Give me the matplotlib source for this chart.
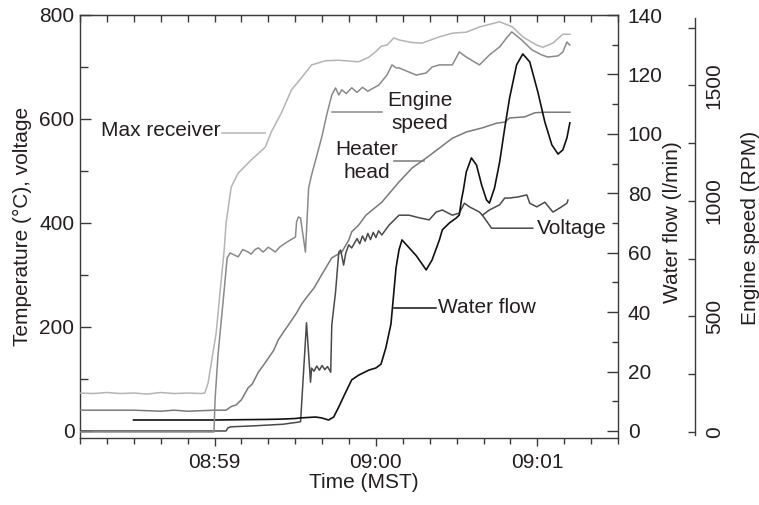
import matplotlib
matplotlib.use("Agg")
import matplotlib.pyplot as plt
from matplotlib.ticker import MultipleLocator

plt.rcParams['font.family'] = ['Liberation Sans', 'DejaVu Sans']

# ---------------- data (time in seconds relative to 08:59:00) ----------------
tick_seconds = [0, 60, 120]
tick_labels = ["08:59", "09:00", "09:01"]

receiver_t = [-51, -45, -40, -35, -30, -25, -20, -15, -10, -5, -3.6, -2.4, 0.6, 2.4, 3.6, 4.3,
              6.2, 8.8, 13.6, 18.9, 21.1, 24.9, 28.6, 32.3, 36.1, 41.3, 46.2, 53.6, 57.4, 60,
              62, 64.1, 66.7, 68.6, 73.5, 77.2, 83.6, 88.4, 93.6, 98.5, 106, 110.8, 114.6,
              119.8, 122.1, 125.8, 129.5, 132.1]
receiver_T = [73, 72, 74, 72, 73, 71, 74, 72, 73, 72, 73, 92, 188, 285, 348, 400,
              469, 496, 521, 546, 575, 612, 656, 679, 704, 712, 713, 710, 719, 730,
              740, 742, 756, 752, 747, 746, 758, 765, 767, 777, 787, 777, 758,
              742, 738, 746, 763, 763]

engine_t = [-51, -0.2, 0.2, 1.3, 3.6, 4.7, 5.8, 8.8, 10.5, 12.5, 13.6, 15.1, 16.3, 18.1, 20.0,
            22.6, 24.2, 26.4, 28.2, 30.1, 30.5, 31.2, 32.0, 32.3, 33.8, 35.0, 36.1, 39.8,
            41.7, 43.6, 45.0, 46.2, 47.3, 49, 51, 53, 55, 57, 58.5, 61.1, 64.1, 66.0, 67.5,
            68.6, 72.3, 75.0, 78.7, 80.9, 83.6, 88.4, 91.0, 93.6, 98.5, 102.2, 106.0, 108.6,
            110.5, 114.2, 118.0, 121.7, 123.9, 127.7, 129.5, 131.0, 132.1]
engine_rpm = [0, 0, 139, 333, 615, 753, 775, 758, 790, 779, 770, 790, 797, 779, 800,
              779, 800, 818, 831, 844, 909, 931, 926, 900, 779, 1056, 1113, 1273,
              1372, 1459, 1489, 1459, 1481, 1465, 1490, 1470, 1492, 1475, 1485, 1502, 1545, 1589, 1576,
              1576, 1558, 1545, 1554, 1580, 1589, 1589, 1645, 1623, 1589, 1632, 1667, 1706,
              1732, 1697, 1654, 1632, 1623, 1628, 1645, 1688, 1675]

heater_t = [-51, -40, -30, -20, -15, -10, -5, 0, 4.3, 6.2, 8.0, 10, 12.5, 14, 16.3, 18, 20.0,
            22, 23.7, 25.6, 27.5, 30.5, 32.5, 35.0, 37, 39.8, 43.6, 47.3, 49.9, 51.0, 53.6,
            56.3, 62.2, 68.6, 73.5, 78.7, 83.6, 88.4, 93.6, 99.6, 104.9, 107.9, 109.7,
            115.3, 119.1, 122.8, 132.1]
heater_T = [40, 40, 40, 38, 40, 38, 39, 40, 40, 47, 50, 60, 83, 90, 113, 125, 140,
            155, 175, 190, 204, 227, 245, 262, 275, 300, 333, 344, 367, 383, 396,
            415, 440, 479, 506, 525, 544, 563, 575, 583, 592, 594, 602,
            604, 612, 613, 613]

voltage_t = [-51, 4.3, 5.0, 6, 15.1, 25.6, 28.2, 31.2, 32.0, 34.2, 35.7, 36.1, 37, 38, 39, 40,
             41, 42, 43.2, 43.6, 45.0, 46.2, 46.9, 48.0, 48.8, 49.9, 51.0, 53, 54, 55, 56,
             57, 58, 59, 60, 61, 62.2, 64.9, 68.6, 72.3, 76.1, 79.8, 82.4, 84.7, 88.4,
             91.0, 92.9, 94.8, 98.5, 99.6, 102.2, 106.0, 107.9, 109.7, 112.7, 116.1,
             117.2, 119.8, 122.8, 125.8, 128.4, 131.0, 131.4]
voltage_V = [0, 0, 6, 8, 10, 13, 15, 17, 18, 208, 94, 121, 115, 125, 117, 126,
             118, 124, 113, 204, 267, 344, 348, 319, 342, 358, 352, 370, 360, 375, 365,
             380, 368, 382, 372, 385, 377, 396, 415, 415, 410, 406, 421, 425, 415,
             419, 438, 431, 421, 415, 425, 435, 448, 448, 450, 454,
             438, 431, 440, 421, 429, 438, 444]

flow_t = [-30.1, 0, 20, 25, 30, 32, 37.6, 39.8, 42.4, 44.3, 46.2, 48.8, 51.0, 53.6, 57.4,
          60.0, 61.9, 63.7, 65.6, 66.7, 67.5, 68.6, 69.7, 71, 75, 78.7, 80.9, 83.6, 84.7,
          87.3, 89.9, 91.0, 91.8, 92.5, 93.6, 95.5, 97.4, 99.3, 101.1, 102.2, 104.1, 106.0,
          107.9, 109.7, 112.3, 114.6, 117.2, 120.2, 122.8, 125.4, 127.7, 129.5, 131.0, 132.1]
flow_W = [3.7, 3.7, 3.9, 4.0, 4.2, 4.4, 4.7, 4.4, 3.7, 4.7, 8.1, 13.1, 17.2, 18.8, 20.5,
          21.2, 22.5, 28, 36, 47, 55, 61, 64.3, 63, 59, 54.2, 57.6, 64.3, 67.7,
          70.0, 71.7, 72.7, 77.8, 81, 87.2, 91.9, 89.5, 82.8, 77.8, 76.7, 81.8, 90.5,
          102.0, 112.1, 123.2, 126.9, 124.2, 114.1, 104.0, 96.3, 93.2, 94.6, 98.6, 103.7]

# ---------------- styling ----------------
TXT = '#231f20'
SP = '#3a3a3a'
C_REC = '#b4b4b4'
C_ENG = '#8a8a8a'
C_HEAT = '#7a7a7a'
C_VOLT = '#4a4a4a'
C_FLOW = '#111111'
FS = 15

W_PX, H_PX = 759, 505
fig = plt.figure(figsize=(W_PX / 100, H_PX / 100), dpi=100)
L, R, T, B = 80, 618, 15, 438
ax = fig.add_axes([L / W_PX, 1 - B / H_PX, (R - L) / W_PX, (B - T) / H_PX])
ax2 = ax.twinx()
ax3 = ax.twinx()

ax.plot(receiver_t, receiver_T, color=C_REC, lw=1.1, zorder=3)
ax.plot(heater_t, heater_T, color=C_HEAT, lw=1.1, zorder=3)
ax.plot(voltage_t, voltage_V, color=C_VOLT, lw=1.1, zorder=4)
ax3.plot(engine_t, engine_rpm, color=C_ENG, lw=1.1, zorder=3)
ax2.plot(flow_t, flow_W, color=C_FLOW, lw=1.2, zorder=5)

ax.set_xlim(-50, 150)
ax.set_ylim(-13.5, 800)
ax2.set_ylim(-2.36, 140)
ax3.set_ylim(-26, 1805)

# spines
for s in ax.spines.values():
    s.set_color(SP)
    s.set_linewidth(1.0)
ax.spines['right'].set_visible(False)
for k in ['left', 'top', 'bottom']:
    ax2.spines[k].set_visible(False)
    ax3.spines[k].set_visible(False)
ax2.spines['right'].set_color(SP)
ax2.spines['right'].set_linewidth(1.0)
ax3.spines['right'].set_position(('axes', (695 - L) / (R - L)))
ax3.spines['right'].set_color(SP)
ax3.spines['right'].set_linewidth(1.0)
ax3.spines['right'].set_bounds(-15, 1790)

# x ticks
ax.set_xticks(tick_seconds)
ax.set_xticklabels(tick_labels)
ax.xaxis.set_minor_locator(MultipleLocator(10))
ax.tick_params(axis='x', which='major', direction='out', length=6, width=1, color=SP,
               labelsize=FS, labelcolor=TXT, pad=5)
ax.tick_params(axis='x', which='minor', direction='out', length=4, width=1, color=SP)
sec = ax.secondary_xaxis('top')
sec.set_xticks(list(range(-50, 151, 10)))
sec.tick_params(axis='x', direction='in', length=5, width=1, color=SP, labeltop=False)
sec.spines['top'].set_color(SP)

# left y ticks
ax.yaxis.set_major_locator(MultipleLocator(200))
ax.yaxis.set_minor_locator(MultipleLocator(100))
ax.tick_params(axis='y', which='major', direction='in', length=8, width=1, color=SP,
               labelsize=FS, labelcolor=TXT, pad=4)
ax.tick_params(axis='y', which='minor', direction='in', length=6, width=1, color=SP)

# water flow ticks
ax2.yaxis.set_major_locator(MultipleLocator(20))
ax2.yaxis.set_minor_locator(MultipleLocator(10))
ax2.tick_params(axis='y', which='major', direction='in', length=8, width=1, color=SP,
                labelsize=FS, labelcolor=TXT, pad=7)
ax2.tick_params(axis='y', which='minor', direction='in', length=4, width=1, color=SP)

# engine speed ticks
ax3.yaxis.set_major_locator(MultipleLocator(500))
ax3.yaxis.set_minor_locator(MultipleLocator(250))
ax3.tick_params(axis='y', which='both', direction='in', length=5, width=1, color=SP,
                labelsize=FS, labelcolor=TXT, pad=7)
for lab in ax3.get_yticklabels():
    lab.set_rotation(90)
    lab.set_va('center')

# axis labels (figure positions)
fig.text(22 / W_PX, 1 - 226 / H_PX, 'Temperature (°C), voltage', rotation=90,
         ha='center', va='center', fontsize=FS, color=TXT)
fig.text(673 / W_PX, 1 - 222 / H_PX, 'Water flow (l/min)', rotation=90,
         ha='center', va='center', fontsize=FS, color=TXT)
fig.text(750 / W_PX, 1 - 228 / H_PX, 'Engine speed (RPM)', rotation=90,
         ha='center', va='center', fontsize=FS, color=TXT)
fig.text(364 / W_PX, 1 - 483 / H_PX, 'Time (MST)', ha='center', va='center',
         fontsize=FS, color=TXT)

# annotations (in time / temperature coordinates)
ax.plot([2.8, 18.9], [573, 573], color=C_REC, lw=1.1)
ax.text(2.4, 577, 'Max receiver', ha='right', va='center', fontsize=FS, color=TXT)

ax.plot([43.6, 62.2], [613, 613], color=C_ENG, lw=1.1)
ax.text(76.5, 613, 'Engine\nspeed', ha='center', va='center', fontsize=FS, color=TXT,
        multialignment='center', linespacing=1.25)

ax.plot([66.7, 77.9], [519, 519], color=C_HEAT, lw=1.1)
ax.text(56.7, 519, 'Heater\nhead', ha='center', va='center', fontsize=FS, color=TXT,
        multialignment='center', linespacing=1.25)

ax.plot([99.6, 103.0, 118.3], [415, 390, 390], color=C_VOLT, lw=1.1)
ax.text(119.8, 390, 'Voltage', ha='left', va='center', fontsize=FS, color=TXT)

ax.plot([66.7, 82.4], [237, 237], color=C_FLOW, lw=1.1)
ax.text(83.2, 237, 'Water flow', ha='left', va='center', fontsize=FS, color=TXT)

fig.savefig('out.png', dpi=100)
